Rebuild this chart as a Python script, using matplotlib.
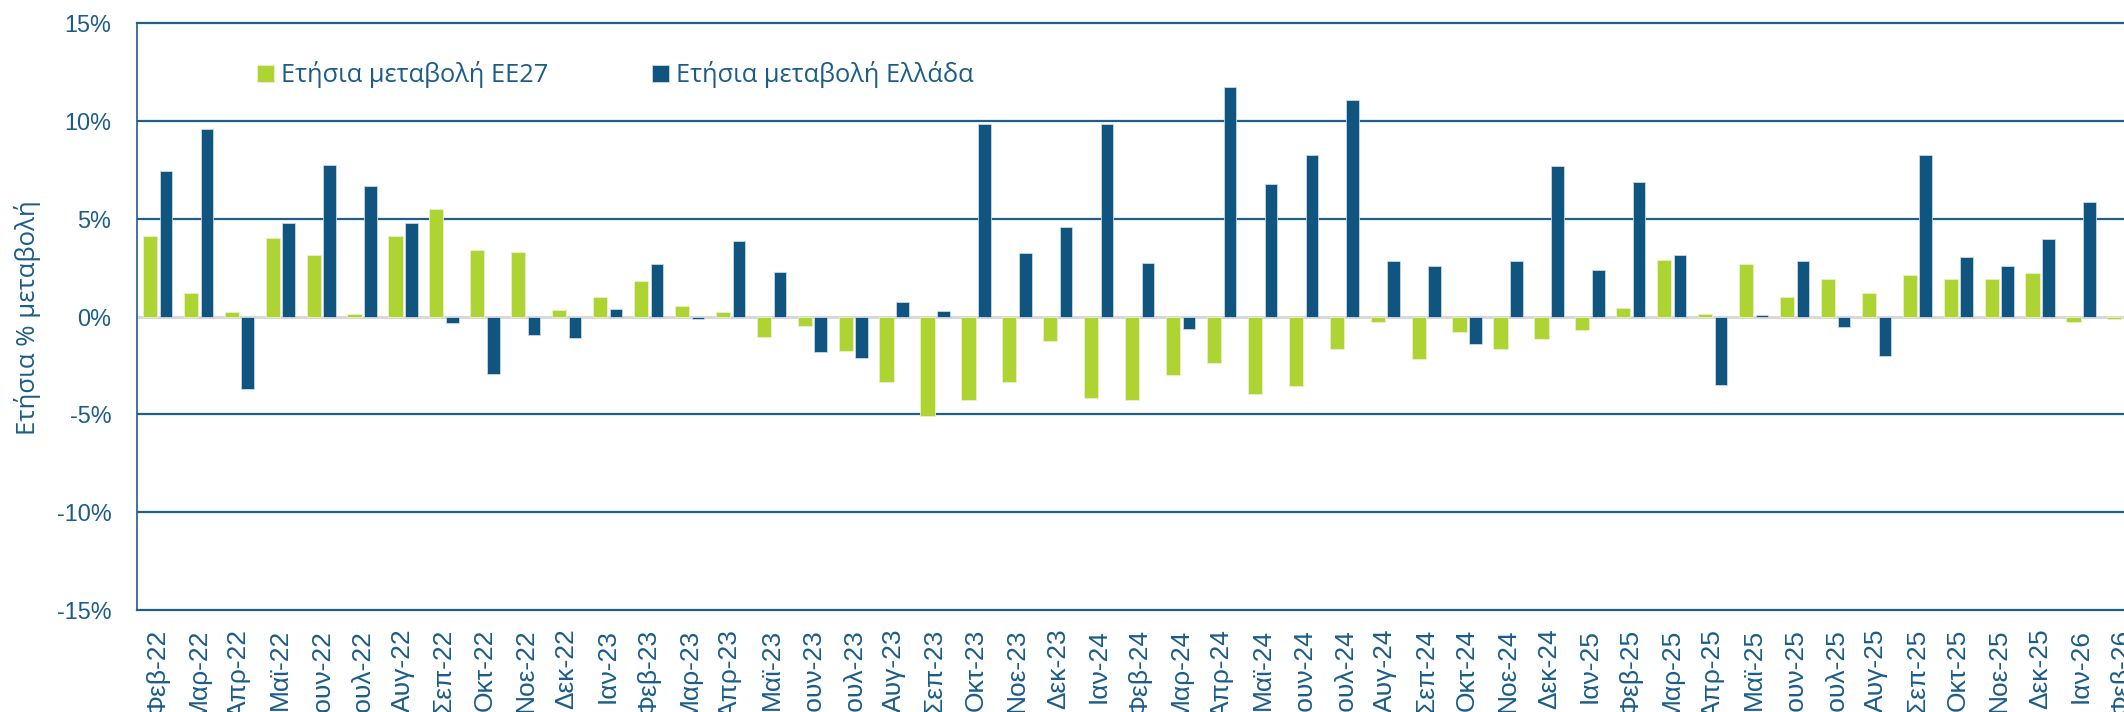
import numpy as np
import matplotlib
matplotlib.use("Agg")
import matplotlib.pyplot as plt
from matplotlib.ticker import FuncFormatter

months = ["Φεβ-22", "Μαρ-22", "Απρ-22", "Μαϊ-22", "Ιουν-22", "Ιουλ-22", "Αυγ-22", "Σεπ-22",
          "Οκτ-22", "Νοε-22", "Δεκ-22", "Ιαν-23", "Φεβ-23", "Μαρ-23", "Απρ-23", "Μαϊ-23",
          "Ιουν-23", "Ιουλ-23", "Αυγ-23", "Σεπ-23", "Οκτ-23", "Νοε-23", "Δεκ-23", "Ιαν-24",
          "Φεβ-24", "Μαρ-24", "Απρ-24", "Μαϊ-24", "Ιουν-24", "Ιουλ-24", "Αυγ-24", "Σεπ-24",
          "Οκτ-24", "Νοε-24", "Δεκ-24", "Ιαν-25", "Φεβ-25", "Μαρ-25", "Απρ-25", "Μαϊ-25",
          "Ιουν-25", "Ιουλ-25", "Αυγ-25", "Σεπ-25", "Οκτ-25", "Νοε-25", "Δεκ-25", "Ιαν-26",
          "Φεβ-26"]

ee27 = [4.13, 1.23, 0.24, 4.03, 3.14, 0.14, 4.13, 5.53, 3.43, 3.33, 0.32, 1.02,
        1.83, 0.53, 0.24, -1.06, -0.46, -1.76, -3.36, -5.07, -4.27, -3.36, -1.26, -4.18,
        -4.27, -2.97, -2.35, -3.96, -3.55, -1.66, -0.26, -2.17, -0.77, -1.66, -1.16, -0.67,
        0.43, 2.92, 0.12, 2.71, 1.02, 1.91, 1.23, 2.12, 1.91, 1.91, 2.22, -0.26,
        -0.14]

greece = [7.47, 9.59, -3.72, 4.78, 7.78, 6.67, 4.78, -0.31, -2.92, -0.92, -1.11, 0.39,
          2.68, -0.10, 3.87, 2.27, -1.81, -2.12, 0.77, 0.29, 9.86, 3.28, 4.57, 9.86,
          2.76, -0.61, 11.77, 6.77, 8.28, 11.07, 2.87, 2.58, -1.42, 2.87, 7.70, 2.37,
          6.88, 3.17, -3.50, 0.07, 2.87, -0.51, -2.01, 8.28, 3.07, 2.58, 3.98, 5.89,
          np.nan]

green = "#add432"
blue = "#0f5580"
txt = "#1b5c88"
grid_c = "#1f5f8b"

fig = plt.figure(figsize=(21.24, 7.12), dpi=100)
ax = fig.add_axes([0.0647, 0.1433, 0.9353, 0.8237])

x = np.arange(len(months))
ax.bar(x - 0.185, ee27, width=0.347, color=green, edgecolor="#e8f2c8", linewidth=0.6,
       zorder=3, label="Ετήσια μεταβολή ΕΕ27")
ax.bar(x + 0.205, greece, width=0.305, color=blue, edgecolor="#c8d8e4", linewidth=0.6,
       zorder=3, label="Ετήσια μεταβολή Ελλάδα")

ax.set_ylim(-15, 15)
ax.set_xlim(-0.49, 48.05)
ax.set_yticks(np.arange(-15, 16, 5))
ax.yaxis.set_major_formatter(FuncFormatter(lambda v, p: f"{v:.0f}%"))
ax.set_xticks(x)
ax.set_xticklabels(months, rotation=90, fontfamily="Liberation Sans", fontsize=19, color=txt)
for lab in ax.get_yticklabels():
    lab.set_fontfamily("Liberation Sans")
    lab.set_fontsize(16.8)
    lab.set_color(txt)
ax.tick_params(axis="both", length=0)
ax.tick_params(axis="x", pad=13.5)
ax.tick_params(axis="y", pad=18.7)

for v in [-10, -5, 5, 10]:
    ax.axhline(v, color=grid_c, linewidth=1.6, zorder=1)
ax.axhline(0, color="#d9d9d9", linewidth=2.2, zorder=2)

ax.spines["right"].set_visible(False)
for s in ["top", "bottom"]:
    ax.spines[s].set_color(grid_c)
    ax.spines[s].set_linewidth(1.6)
ax.spines["left"].set_color(grid_c)
ax.spines["left"].set_linewidth(1.2)

leg = ax.legend(loc="center left", bbox_to_anchor=(257 / 2124, 0.8947),
                bbox_transform=fig.transFigure, ncol=2, frameon=False,
                handlelength=0.67, handleheight=0.67, handletextpad=0.27,
                columnspacing=4.1, borderpad=0, borderaxespad=0,
                prop={"family": "Open Sans", "size": 18.3})
for t in leg.get_texts():
    t.set_color(txt)

fig.text(28 / 2124, 1 - 318 / 712, "Ετήσια % μεταβολή", rotation=90, ha="center", va="center",
         fontfamily="Open Sans", fontsize=18.5, color=txt)

fig.savefig("out.png", dpi=100)
